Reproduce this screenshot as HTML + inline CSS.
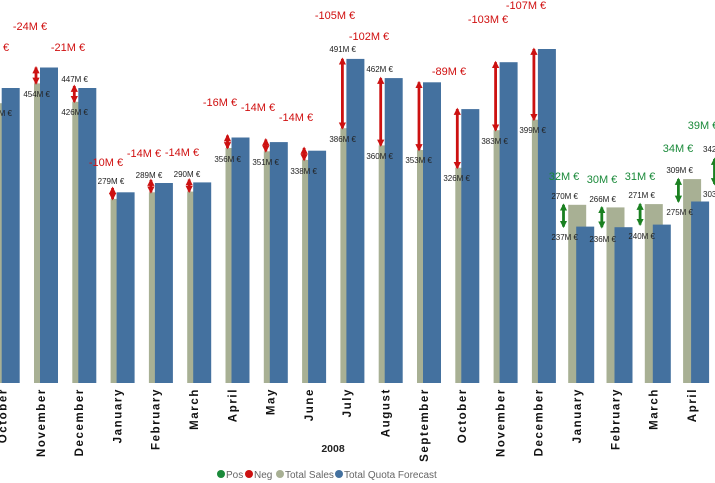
<!DOCTYPE html>
<html><head><meta charset="utf-8"><style>
body{margin:0;background:#fff;}
svg{display:block;font-family:"Liberation Sans",sans-serif;}
.v{font-size:8px;fill:#222;}
.n{font-size:11px;fill:#d01010;text-anchor:middle;}
.p{font-size:11px;fill:#1a8a3a;text-anchor:middle;}
.m{font-size:11.5px;font-weight:bold;fill:#111;text-anchor:end;letter-spacing:1.6px;}
.s{fill:#a8b094}.b{fill:#44719f}
.ra{stroke:#cc1111;stroke-width:2.8;marker-start:url(#rh);marker-end:url(#rh);}
.ga{stroke:#1a8020;stroke-width:2.8;marker-start:url(#gh);marker-end:url(#gh);}
</style></head><body>
<svg width="715" height="483" viewBox="0 0 715 483">
<defs>
<marker id="rh" viewBox="0 0 10 10" refX="8" refY="5" markerWidth="2.6" markerHeight="3" orient="auto-start-reverse"><path d="M0,0L10,5L0,10z" fill="#cc1111"/></marker>
<marker id="gh" viewBox="0 0 10 10" refX="8" refY="5" markerWidth="2.6" markerHeight="3" orient="auto-start-reverse"><path d="M0,0L10,5L0,10z" fill="#1a8020"/></marker>
</defs>
<rect class="s" x="-4.3" y="103.2" width="18" height="279.8"/>
<rect class="s" x="34" y="83.4" width="18" height="299.6"/>
<rect class="s" x="72.3" y="101.8" width="18" height="281.2"/>
<rect class="s" x="110.6" y="198.9" width="18" height="184.1"/>
<rect class="s" x="148.9" y="192.3" width="18" height="190.7"/>
<rect class="s" x="187.2" y="191.6" width="18" height="191.4"/>
<rect class="s" x="225.5" y="148" width="18" height="235"/>
<rect class="s" x="263.8" y="151.3" width="18" height="231.7"/>
<rect class="s" x="302.1" y="159.9" width="18" height="223.1"/>
<rect class="s" x="340.4" y="128.2" width="18" height="254.8"/>
<rect class="s" x="378.7" y="145.4" width="18" height="237.6"/>
<rect class="s" x="417" y="150" width="18" height="233"/>
<rect class="s" x="455.3" y="167.8" width="18" height="215.2"/>
<rect class="s" x="493.6" y="130.2" width="18" height="252.8"/>
<rect class="s" x="531.9" y="119.7" width="18" height="263.3"/>
<rect class="s" x="568.2" y="204.8" width="18" height="178.2"/>
<rect class="s" x="606.5" y="207.4" width="18" height="175.6"/>
<rect class="s" x="644.8" y="204.1" width="18" height="178.9"/>
<rect class="s" x="683.1" y="179.1" width="18" height="203.9"/>
<rect class="b" x="1.7" y="88" width="18" height="295"/>
<rect class="b" x="40" y="67.5" width="18" height="315.5"/>
<rect class="b" x="78.3" y="88" width="18" height="295"/>
<rect class="b" x="116.6" y="192.3" width="18" height="190.7"/>
<rect class="b" x="154.9" y="183" width="18" height="200"/>
<rect class="b" x="193.2" y="182.4" width="18" height="200.6"/>
<rect class="b" x="231.5" y="137.5" width="18" height="245.5"/>
<rect class="b" x="269.8" y="142.1" width="18" height="240.9"/>
<rect class="b" x="308.1" y="150.7" width="18" height="232.3"/>
<rect class="b" x="346.4" y="58.9" width="18" height="324.1"/>
<rect class="b" x="384.7" y="78.1" width="18" height="304.9"/>
<rect class="b" x="423" y="82.3" width="18" height="300.7"/>
<rect class="b" x="461.3" y="109.1" width="18" height="273.9"/>
<rect class="b" x="499.6" y="62.2" width="18" height="320.8"/>
<rect class="b" x="537.9" y="49" width="18" height="334"/>
<rect class="b" x="576.2" y="226.6" width="18" height="156.4"/>
<rect class="b" x="614.5" y="227.2" width="18" height="155.8"/>
<rect class="b" x="652.8" y="224.6" width="18" height="158.4"/>
<rect class="b" x="691.1" y="201.5" width="18" height="181.5"/>
<line class="ra" x1="36" y1="67.5" x2="36" y2="83.4"/>
<line class="ra" x1="74.3" y1="86" x2="74.3" y2="101.8"/>
<line class="ra" x1="112.6" y1="188" x2="112.6" y2="199"/>
<line class="ra" x1="150.9" y1="180" x2="150.9" y2="192.3"/>
<line class="ra" x1="189.2" y1="179.5" x2="189.2" y2="191.6"/>
<line class="ra" x1="227.5" y1="135.5" x2="227.5" y2="148"/>
<line class="ra" x1="265.8" y1="139.5" x2="265.8" y2="151.3"/>
<line class="ra" x1="304.1" y1="148" x2="304.1" y2="159.9"/>
<line class="ra" x1="342.4" y1="58.9" x2="342.4" y2="128.2"/>
<line class="ra" x1="380.7" y1="78.1" x2="380.7" y2="145.4"/>
<line class="ra" x1="419" y1="82.3" x2="419" y2="150"/>
<line class="ra" x1="457.3" y1="109.1" x2="457.3" y2="167.8"/>
<line class="ra" x1="495.6" y1="62.2" x2="495.6" y2="130.2"/>
<line class="ra" x1="533.9" y1="49" x2="533.9" y2="119.7"/>
<line class="ga" x1="563.5" y1="204.8" x2="563.5" y2="226.6"/>
<line class="ga" x1="601.8" y1="207.4" x2="601.8" y2="227.2"/>
<line class="ga" x1="640.1" y1="204.1" x2="640.1" y2="224.6"/>
<line class="ga" x1="678.4" y1="179.1" x2="678.4" y2="201.5"/>
<line class="ga" x1="714.5" y1="159" x2="714.5" y2="184"/>
<text class="v" x="12" y="116" text-anchor="end">424M €</text>
<text class="v" x="50" y="97" text-anchor="end">454M €</text>
<text class="v" x="88" y="82" text-anchor="end">447M €</text>
<text class="v" x="88" y="115" text-anchor="end">426M €</text>
<text class="v" x="111" y="184" text-anchor="middle">279M €</text>
<text class="v" x="149" y="178" text-anchor="middle">289M €</text>
<text class="v" x="187" y="177" text-anchor="middle">290M €</text>
<text class="v" x="241" y="162" text-anchor="end">356M €</text>
<text class="v" x="279" y="165" text-anchor="end">351M €</text>
<text class="v" x="317" y="174" text-anchor="end">338M €</text>
<text class="v" x="356" y="52" text-anchor="end">491M €</text>
<text class="v" x="356" y="142" text-anchor="end">386M €</text>
<text class="v" x="393" y="72" text-anchor="end">462M €</text>
<text class="v" x="393" y="159" text-anchor="end">360M €</text>
<text class="v" x="432" y="163" text-anchor="end">353M €</text>
<text class="v" x="470" y="181" text-anchor="end">326M €</text>
<text class="v" x="508" y="144" text-anchor="end">383M €</text>
<text class="v" x="546" y="133" text-anchor="end">399M €</text>
<text class="v" x="578" y="199" text-anchor="end">270M €</text>
<text class="v" x="578" y="240" text-anchor="end">237M €</text>
<text class="v" x="616" y="202" text-anchor="end">266M €</text>
<text class="v" x="616" y="242" text-anchor="end">236M €</text>
<text class="v" x="655" y="198" text-anchor="end">271M €</text>
<text class="v" x="655" y="239" text-anchor="end">240M €</text>
<text class="v" x="693" y="173" text-anchor="end">309M €</text>
<text class="v" x="693" y="215" text-anchor="end">275M €</text>
<text class="v" x="703" y="152">342M €</text>
<text class="v" x="703" y="197">303M €</text>
<text class="n" x="-8" y="51">-23M €</text>
<text class="n" x="30" y="30">-24M €</text>
<text class="n" x="68" y="51">-21M €</text>
<text class="n" x="106" y="166">-10M €</text>
<text class="n" x="144" y="157">-14M €</text>
<text class="n" x="182" y="156">-14M €</text>
<text class="n" x="220" y="106">-16M €</text>
<text class="n" x="258" y="111">-14M €</text>
<text class="n" x="296" y="121">-14M €</text>
<text class="n" x="335" y="19">-105M €</text>
<text class="n" x="369" y="40">-102M €</text>
<text class="n" x="449" y="75">-89M €</text>
<text class="n" x="488" y="23">-103M €</text>
<text class="n" x="526" y="9">-107M €</text>
<text class="p" x="564" y="180">32M €</text>
<text class="p" x="602" y="183">30M €</text>
<text class="p" x="640" y="180">31M €</text>
<text class="p" x="678" y="152">34M €</text>
<text class="p" x="703" y="129" text-anchor="start">39M €</text>
<text class="m" transform="translate(6.5,388) rotate(-90)">October</text>
<text class="m" transform="translate(44.8,388) rotate(-90)">November</text>
<text class="m" transform="translate(83.1,388) rotate(-90)">December</text>
<text class="m" transform="translate(121.4,388) rotate(-90)">January</text>
<text class="m" transform="translate(159.7,388) rotate(-90)">February</text>
<text class="m" transform="translate(198,388) rotate(-90)">March</text>
<text class="m" transform="translate(236.3,388) rotate(-90)">April</text>
<text class="m" transform="translate(274.6,388) rotate(-90)">May</text>
<text class="m" transform="translate(312.9,388) rotate(-90)">June</text>
<text class="m" transform="translate(351.2,388) rotate(-90)">July</text>
<text class="m" transform="translate(389.5,388) rotate(-90)">August</text>
<text class="m" transform="translate(427.8,388) rotate(-90)">September</text>
<text class="m" transform="translate(466.1,388) rotate(-90)">October</text>
<text class="m" transform="translate(504.4,388) rotate(-90)">November</text>
<text class="m" transform="translate(542.7,388) rotate(-90)">December</text>
<text class="m" transform="translate(581,388) rotate(-90)">January</text>
<text class="m" transform="translate(619.3,388) rotate(-90)">February</text>
<text class="m" transform="translate(657.6,388) rotate(-90)">March</text>
<text class="m" transform="translate(695.9,388) rotate(-90)">April</text>
<text x="333" y="452" text-anchor="middle" font-size="10.5" font-weight="bold" fill="#222">2008</text>
<g font-size="10" fill="#666">
<circle cx="221" cy="474" r="4" fill="#1a8a3a"/><text x="226" y="478">Pos</text>
<circle cx="249" cy="474" r="4" fill="#cc1111"/><text x="254" y="478">Neg</text>
<circle cx="280" cy="474" r="4" fill="#a8b094"/><text x="285" y="478">Total Sales</text>
<circle cx="339" cy="474" r="4" fill="#44719f"/><text x="344" y="478">Total Quota Forecast</text>
</g>
</svg>
</body></html>
